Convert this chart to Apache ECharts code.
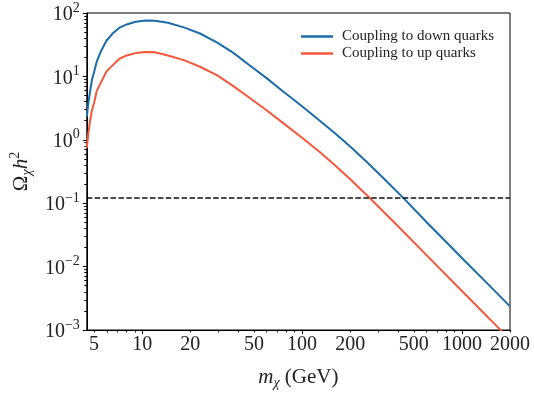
<!DOCTYPE html>
<html>
<head>
<meta charset="utf-8">
<script src="https://cdn.jsdelivr.net/npm/echarts@6/dist/echarts.min.js"></script>
<style>
  html, body { margin: 0; padding: 0; background: #fff; }
  #chart { width: 534px; height: 395px; }
</style>
</head>
<body>
<div id="chart"></div>
<script>
// relic abundance vs dark matter mass
const massDown = [4.5, 4.6, 4.72, 4.85, 5.0, 5.19, 5.5, 5.97, 6.5, 7.2, 8.0, 9.1, 10.5, 12, 14.5, 18.4, 23, 29.3, 37, 46.9, 60, 74.8, 100, 128, 160, 205, 260, 327, 433, 600, 833, 1000, 1400, 2000]
const omegaDown = [2.3, 3.8, 5.8, 8.9, 11.7, 17, 24.5, 36.5, 47, 58.7, 66, 72.6, 76, 75.5, 70, 58.8, 47.5, 34.5, 23.7, 15, 9.4, 6.0, 3.38, 2.04, 1.28, 0.743, 0.424, 0.241, 0.119, 0.0504, 0.0219, 0.0137, 0.00585, 0.00236]

const massUp = [4.5, 4.6, 4.72, 4.85, 5.0, 5.19, 5.5, 5.97, 6.5, 7.2, 8.0, 9.1, 10.5, 12, 14.5, 18.4, 23, 29.3, 37, 46.9, 60, 74.8, 100, 128, 160, 205, 265, 413, 659, 1052, 1682, 2000]
const omegaUp = [0.74, 1.26, 2.0, 2.95, 3.8, 5.85, 7.9, 11.9, 14.8, 19, 21.4, 23.3, 24.2, 24, 21.4, 17.9, 14.2, 10.5, 7.1, 4.6, 2.92, 1.9, 1.08, 0.652, 0.399, 0.226, 0.121, 0.0395, 0.012, 0.00364, 0.0011, 0.00071]

const planckOmega = 0.12

const xLabelValues = [5, 10, 20, 50, 100, 200, 500, 1000, 2000]
const xMajorTicks = [10, 100, 1000]
const xMinorTicks = [5, 6, 7, 8, 9, 20, 30, 40, 50, 60, 70, 80, 90, 200, 300, 400, 500, 600, 700, 800, 900, 2000]
const yMajorTicks = [0.001, 0.01, 0.1, 1, 10, 100]
const yMinorTicks = []
for (const p of [0.001, 0.01, 0.1, 1, 10]) {
  for (let k = 2; k <= 9; k++) yMinorTicks.push(+(p * k).toPrecision(3))
}

const serif = '"Liberation Serif", "DejaVu Serif", serif'
const blue = '#1b6ca8'
const red = '#f4583a'
const ink = '#222'

const chart = echarts.init(document.getElementById('chart'), null, { renderer: 'canvas' })

const zip = (xs, ys) => xs.map((x, i) => [x, ys[i]])

const baseX = {
  type: 'log',
  logBase: 10,
  min: 4.5,
  max: 2000,
  gridIndex: 0,
  splitLine: { show: false }
}
const baseY = {
  type: 'log',
  logBase: 10,
  min: 0.001,
  max: 100,
  gridIndex: 0,
  splitLine: { show: false }
}

chart.setOption({
  animation: false,
  backgroundColor: '#fff',
  grid: {
    left: 75,
    right: 24,
    top: 13,
    bottom: 57,
    show: true,
    borderColor: '#000',
    borderWidth: 1
  },
  legend: {
    orient: 'vertical',
    left: 296,
    top: 23,
    itemWidth: 32,
    itemHeight: 2.5,
    itemGap: 0,
    icon: 'rect',
    textStyle: {
      fontFamily: serif,
      fontSize: 15,
      color: ink,
      lineHeight: 17,
      padding: [0, 0, 0, 4]
    },
    data: ['Coupling to down quarks', 'Coupling to up quarks']
  },
  xAxis: [
    Object.assign({}, baseX, {
      position: 'bottom',
      axisLine: { lineStyle: { color: '#000', width: 1 } },
      axisTick: { customValues: xMajorTicks, length: 4, lineStyle: { color: '#000' } },
      axisLabel: {
        customValues: xLabelValues,
        margin: 5,
        fontFamily: serif,
        fontSize: 20,
        color: ink,
        formatter: (v) => String(Math.round(v))
      },
      name: '{i|m}{s|χ}{n| (GeV)}',
      nameLocation: 'middle',
      nameGap: 34,
      nameTextStyle: {
        rich: {
          i: { fontFamily: serif, fontStyle: 'italic', fontSize: 21, color: ink, lineHeight: 26, verticalAlign: 'middle' },
          s: { fontFamily: serif, fontStyle: 'italic', fontSize: 14, color: ink, lineHeight: 14, verticalAlign: 'bottom' },
          n: { fontFamily: serif, fontSize: 21, color: ink, lineHeight: 26, verticalAlign: 'middle' }
        }
      }
    }),
    Object.assign({}, baseX, {
      position: 'bottom',
      axisLine: { show: false },
      axisTick: { customValues: xMinorTicks, length: 2.5, lineStyle: { color: '#000' } },
      axisLabel: { show: false }
    })
  ],
  yAxis: [
    Object.assign({}, baseY, {
      position: 'left',
      axisLine: { show: true, lineStyle: { color: '#000', width: 1 } },
      axisTick: { show: true, customValues: yMajorTicks, length: 4, lineStyle: { color: '#000' } },
      axisLabel: {
        customValues: yMajorTicks,
        margin: 7,
        formatter: (v) => {
          const e = Math.round(Math.log10(v))
          return '{b|10}{s|' + (e < 0 ? '\u2212' + (-e) : e) + '}'
        },
        rich: {
          b: { fontFamily: serif, fontSize: 20, color: ink, lineHeight: 24, verticalAlign: 'bottom' },
          s: { fontFamily: serif, fontSize: 14, color: ink, lineHeight: 16, verticalAlign: 'top' }
        }
      },
      name: '{n|Ω}{s|χ}{i|h}{p|2}',
      nameLocation: 'middle',
      nameRotate: 90,
      nameGap: 42,
      nameTextStyle: {
        rich: {
          n: { fontFamily: serif, fontSize: 21, color: ink, lineHeight: 26, verticalAlign: 'middle' },
          i: { fontFamily: serif, fontStyle: 'italic', fontSize: 21, color: ink, lineHeight: 26, verticalAlign: 'middle' },
          s: { fontFamily: serif, fontStyle: 'italic', fontSize: 14, color: ink, lineHeight: 14, verticalAlign: 'bottom' },
          p: { fontFamily: serif, fontSize: 14, color: ink, lineHeight: 16, verticalAlign: 'top' }
        }
      }
    }),
    Object.assign({}, baseY, {
      position: 'left',
      axisLine: { show: false },
      axisTick: { show: true, customValues: yMinorTicks, length: 2.5, lineStyle: { color: '#000' } },
      axisLabel: { show: false }
    })
  ],
  series: [
    {
      name: 'Coupling to down quarks',
      type: 'line',
      data: zip(massDown, omegaDown),
      showSymbol: false,
      smooth: false,
      clip: true,
      lineStyle: { color: blue, width: 2, join: 'round' },
      itemStyle: { color: blue },
      markLine: {
        silent: true,
        symbol: 'none',
        label: { show: false },
        lineStyle: { color: '#111', width: 1.5, type: [5.5, 2.4] },
        data: [{ yAxis: planckOmega }]
      }
    },
    {
      name: 'Coupling to up quarks',
      type: 'line',
      data: zip(massUp, omegaUp),
      showSymbol: false,
      smooth: false,
      clip: true,
      lineStyle: { color: red, width: 2, join: 'round' },
      itemStyle: { color: red }
    }
  ]
})
</script>
</body>
</html>
